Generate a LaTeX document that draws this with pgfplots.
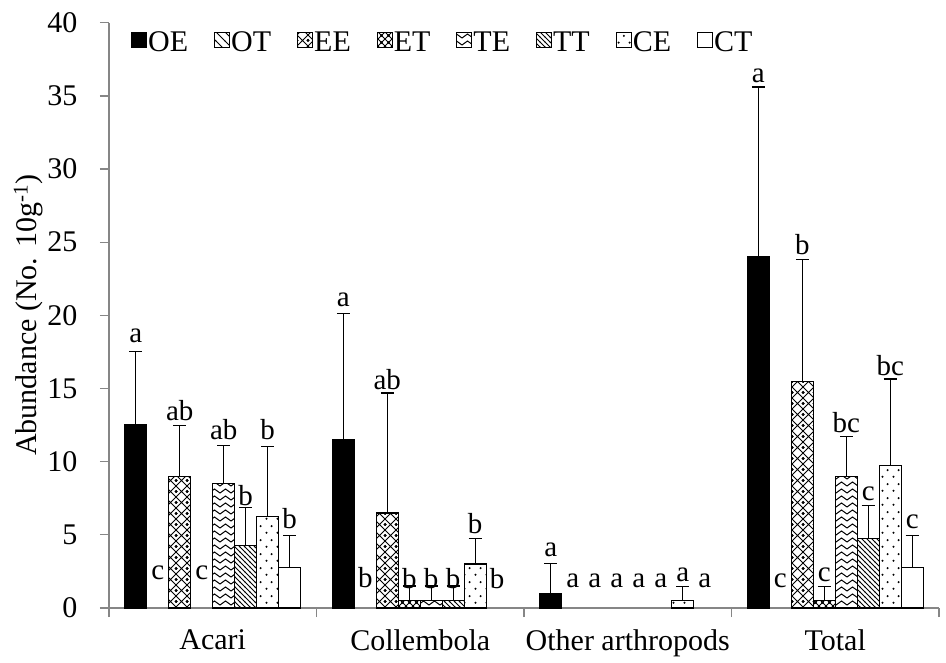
\documentclass[border=0pt]{standalone}
\usepackage{fontspec}
\setmainfont{Liberation Serif}
\usepackage{pgfplots}
\pgfplotsset{compat=1.18}
\usepackage{pgfplotstable}
\usetikzlibrary{patterns}

\definecolor{axisgray}{RGB}{134,134,134}
\newcommand{\tickfont}{\fontsize{30pt}{34pt}\selectfont}
\newcommand{\catfont}{\fontsize{30pt}{34pt}\selectfont}
\newcommand{\letfont}{\fontsize{29pt}{33pt}\selectfont}
\newcommand{\legfont}{\fontsize{30pt}{34pt}\selectfont}
\newcommand{\labfont}{\fontsize{30pt}{34pt}\selectfont}

% diagonal cross-hatch with dots
\pgfdeclarepatternformonly{xdiam}{\pgfqpoint{-2pt}{-2pt}}{\pgfqpoint{13pt}{13pt}}{\pgfqpoint{11pt}{11pt}}{%
  \pgfsetlinewidth{0.9pt}%
  \pgfpathmoveto{\pgfqpoint{0pt}{0pt}}\pgfpathlineto{\pgfqpoint{11pt}{11pt}}%
  \pgfpathmoveto{\pgfqpoint{0pt}{11pt}}\pgfpathlineto{\pgfqpoint{11pt}{0pt}}%
  \pgfusepath{stroke}%
  \pgfpathcircle{\pgfqpoint{0pt}{5.5pt}}{1.5pt}%
  \pgfpathcircle{\pgfqpoint{11pt}{5.5pt}}{1.5pt}%
  \pgfusepath{fill}}
% denser cross-hatch
\pgfdeclarepatternformonly{xdense}{\pgfqpoint{-1pt}{-1pt}}{\pgfqpoint{8pt}{8pt}}{\pgfqpoint{7pt}{7pt}}{%
  \pgfsetlinewidth{0.9pt}%
  \pgfpathmoveto{\pgfqpoint{0pt}{0pt}}\pgfpathlineto{\pgfqpoint{7pt}{7pt}}%
  \pgfpathmoveto{\pgfqpoint{0pt}{7pt}}\pgfpathlineto{\pgfqpoint{7pt}{0pt}}%
  \pgfusepath{stroke}%
  \pgfpathcircle{\pgfqpoint{3.5pt}{3.5pt}}{1.3pt}%
  \pgfusepath{fill}}
% zigzag chevrons
\pgfdeclarepatternformonly{zigzag}{\pgfqpoint{-1pt}{-1pt}}{\pgfqpoint{12pt}{8pt}}{\pgfqpoint{11pt}{7pt}}{%
  \pgfsetlinewidth{1pt}%
  \pgfpathmoveto{\pgfqpoint{0pt}{1pt}}\pgfpathlineto{\pgfqpoint{5.5pt}{5pt}}\pgfpathlineto{\pgfqpoint{11pt}{1pt}}%
  \pgfusepath{stroke}}
% dense north-west lines
\pgfdeclarepatternformonly{nwdense}{\pgfqpoint{-1pt}{-1pt}}{\pgfqpoint{6pt}{6pt}}{\pgfqpoint{5pt}{5pt}}{%
  \pgfsetlinewidth{0.9pt}%
  \pgfpathmoveto{\pgfqpoint{-0.5pt}{5.5pt}}\pgfpathlineto{\pgfqpoint{5.5pt}{-0.5pt}}%
  \pgfusepath{stroke}}
% wide north-west lines
\pgfdeclarepatternformonly{nwwide}{\pgfqpoint{-1pt}{-1pt}}{\pgfqpoint{10pt}{10pt}}{\pgfqpoint{9pt}{9pt}}{%
  \pgfsetlinewidth{1pt}%
  \pgfpathmoveto{\pgfqpoint{-0.5pt}{9.5pt}}\pgfpathlineto{\pgfqpoint{9.5pt}{-0.5pt}}%
  \pgfusepath{stroke}}
% sparse dots
\pgfdeclarepatternformonly{sdots}{\pgfqpoint{0pt}{0pt}}{\pgfqpoint{11pt}{14pt}}{\pgfqpoint{11pt}{14pt}}{%
  \pgfpathcircle{\pgfqpoint{2.75pt}{3.5pt}}{1.2pt}%
  \pgfpathcircle{\pgfqpoint{8.25pt}{10.5pt}}{1.2pt}%
  \pgfusepath{fill}}

% columns: value, upper error, label baseline, label
\pgfplotstableread{
y err ly lab
12.5 5.05 18.1 a
11.5 8.65 20.55 a
1.0 2.05 3.5 a
24.0 11.6 35.9 a
}\tOE
\pgfplotstableread{
y err ly lab
0 0 1.9 c
0 0 1.36 b
0 0 1.36 a
0 0 1.36 c
}\tOT
\pgfplotstableread{
y err ly lab
9.0 3.45 12.8 ab
6.5 8.2 14.92 ab
0 0 1.36 a
15.5 8.3 24.15 b
}\tEE
\pgfplotstableread{
y err ly lab
0 0 1.9 c
0.5 1.0 1.3 b
0 0 1.36 a
0.5 0.95 1.8 c
}\tET
\pgfplotstableread{
y err ly lab
8.5 2.6 11.46 ab
0.5 1.0 1.3 b
0 0 1.36 a
9.0 2.7 11.96 bc
}\tTE
\pgfplotstableread{
y err ly lab
4.25 2.6 6.96 b
0.5 1.0 1.3 b
0 0 1.36 a
4.75 2.25 7.32 c
}\tTT
\pgfplotstableread{
y err ly lab
6.25 4.8 11.46 b
3.0 1.75 5.03 b
0.5 0.95 1.8 a
9.75 5.9 15.83 bc
}\tCE
\pgfplotstableread{
y err ly lab
2.75 2.2 5.39 b
0 0 1.3 b
0 0 1.36 a
2.75 2.2 5.43 c
}\tCT

\pgfplotsset{
  barsty/.style={ybar, bar width=0.106, bar shift=0pt, draw=black, line width=1.3pt,
    forget plot, restrict y to domain=0.001:100,
    error bars/y dir=plus, error bars/y explicit,
    error bars/error bar style={line width=1.3pt, black},
    error bars/error mark options={rotate=90, mark size=6.5pt, line width=1.3pt, black}},
  labsty/.style={draw=none, mark=none, forget plot, nodes near coords,
    point meta=explicit symbolic,
    nodes near coords style={anchor=south, inner sep=0pt, font=\letfont, text=black}},
}

\begin{document}
\begin{tikzpicture}
\begin{axis}[
  at={(0pt,0pt)}, anchor=south west,
  scale only axis, width=830pt, height=585.3pt,
  xmin=-0.5, xmax=3.5, ymin=0, ymax=40,
  axis x line*=bottom, axis y line*=left,
  axis line style={draw=axisgray, line width=1.3pt, -},
  xtick={-0.5,0.5,1.5,2.5,3.5}, xticklabels={},
  extra x ticks={0,1,2,3},
  extra x tick labels={Acari,Collembola,Other arthropods,Total},
  extra x tick style={major tick length=0pt, tick label style={font=\catfont, yshift=-18pt}},
  ytick={0,5,...,40},
  tick align=outside, major tick length=9pt,
  tick style={draw=axisgray, line width=1.3pt},
  yticklabel style={font=\tickfont, xshift=-19pt},
  /pgf/number format/assume math mode=true,
  ylabel={Abundance (No. 10g\textsuperscript{-1})},
  ylabel style={font=\labfont, at={(axis description cs:-0.097,0.5)}, anchor=center},
  clip=false,
  legend columns=-1,
  legend style={at={(axis description cs:0.0265,0.967)}, anchor=west, draw=none, fill=none,
    inner sep=0pt, font=\legfont, nodes={inner sep=1pt},
    /tikz/every even column/.append style={column sep=25pt}},
  legend image code/.code={\draw[#1] (0pt,-5.5pt) rectangle (15pt,9.5pt);},
]
% bars
\addplot[barsty, fill=black] table[x expr=\coordindex-0.371, y=y, y error=err]{\tOE};
\addplot[barsty, pattern=nwwide] table[x expr=\coordindex-0.265, y=y, y error=err]{\tOT};
\addplot[barsty, pattern=xdiam] table[x expr=\coordindex-0.159, y=y, y error=err]{\tEE};
\addplot[barsty, pattern=xdense] table[x expr=\coordindex-0.053, y=y, y error=err]{\tET};
\addplot[barsty, pattern=zigzag] table[x expr=\coordindex+0.053, y=y, y error=err]{\tTE};
\addplot[barsty, pattern=nwdense] table[x expr=\coordindex+0.159, y=y, y error=err]{\tTT};
\addplot[barsty, pattern=sdots] table[x expr=\coordindex+0.265, y=y, y error=err]{\tCE};
\addplot[barsty, fill=white] table[x expr=\coordindex+0.371, y=y, y error=err]{\tCT};
% letters
\addplot[labsty] table[x expr=\coordindex-0.371, y=ly, meta=lab]{\tOE};
\addplot[labsty] table[x expr=\coordindex-0.265, y=ly, meta=lab]{\tOT};
\addplot[labsty] table[x expr=\coordindex-0.159, y=ly, meta=lab]{\tEE};
\addplot[labsty] table[x expr=\coordindex-0.053, y=ly, meta=lab]{\tET};
\addplot[labsty] table[x expr=\coordindex+0.053, y=ly, meta=lab]{\tTE};
\addplot[labsty] table[x expr=\coordindex+0.159, y=ly, meta=lab]{\tTT};
\addplot[labsty] table[x expr=\coordindex+0.265, y=ly, meta=lab]{\tCE};
\addplot[labsty] table[x expr=\coordindex+0.371, y=ly, meta=lab]{\tCT};
% legend
\addlegendimage{draw=black, line width=1pt, fill=black}\addlegendentry{OE}
\addlegendimage{draw=black, line width=1pt, pattern=nwwide}\addlegendentry{OT}
\addlegendimage{draw=black, line width=1pt, pattern=xdiam}\addlegendentry{EE}
\addlegendimage{draw=black, line width=1pt, pattern=xdense}\addlegendentry{ET}
\addlegendimage{draw=black, line width=1pt, pattern=zigzag}\addlegendentry{TE}
\addlegendimage{draw=black, line width=1pt, pattern=nwdense}\addlegendentry{TT}
\addlegendimage{draw=black, line width=1pt, pattern=sdots}\addlegendentry{CE}
\addlegendimage{draw=black, line width=1pt, fill=white}\addlegendentry{CT}
\end{axis}
\pgfresetboundingbox
\path (-109pt,-54pt) rectangle (837pt,608pt);
\end{tikzpicture}
\end{document}
